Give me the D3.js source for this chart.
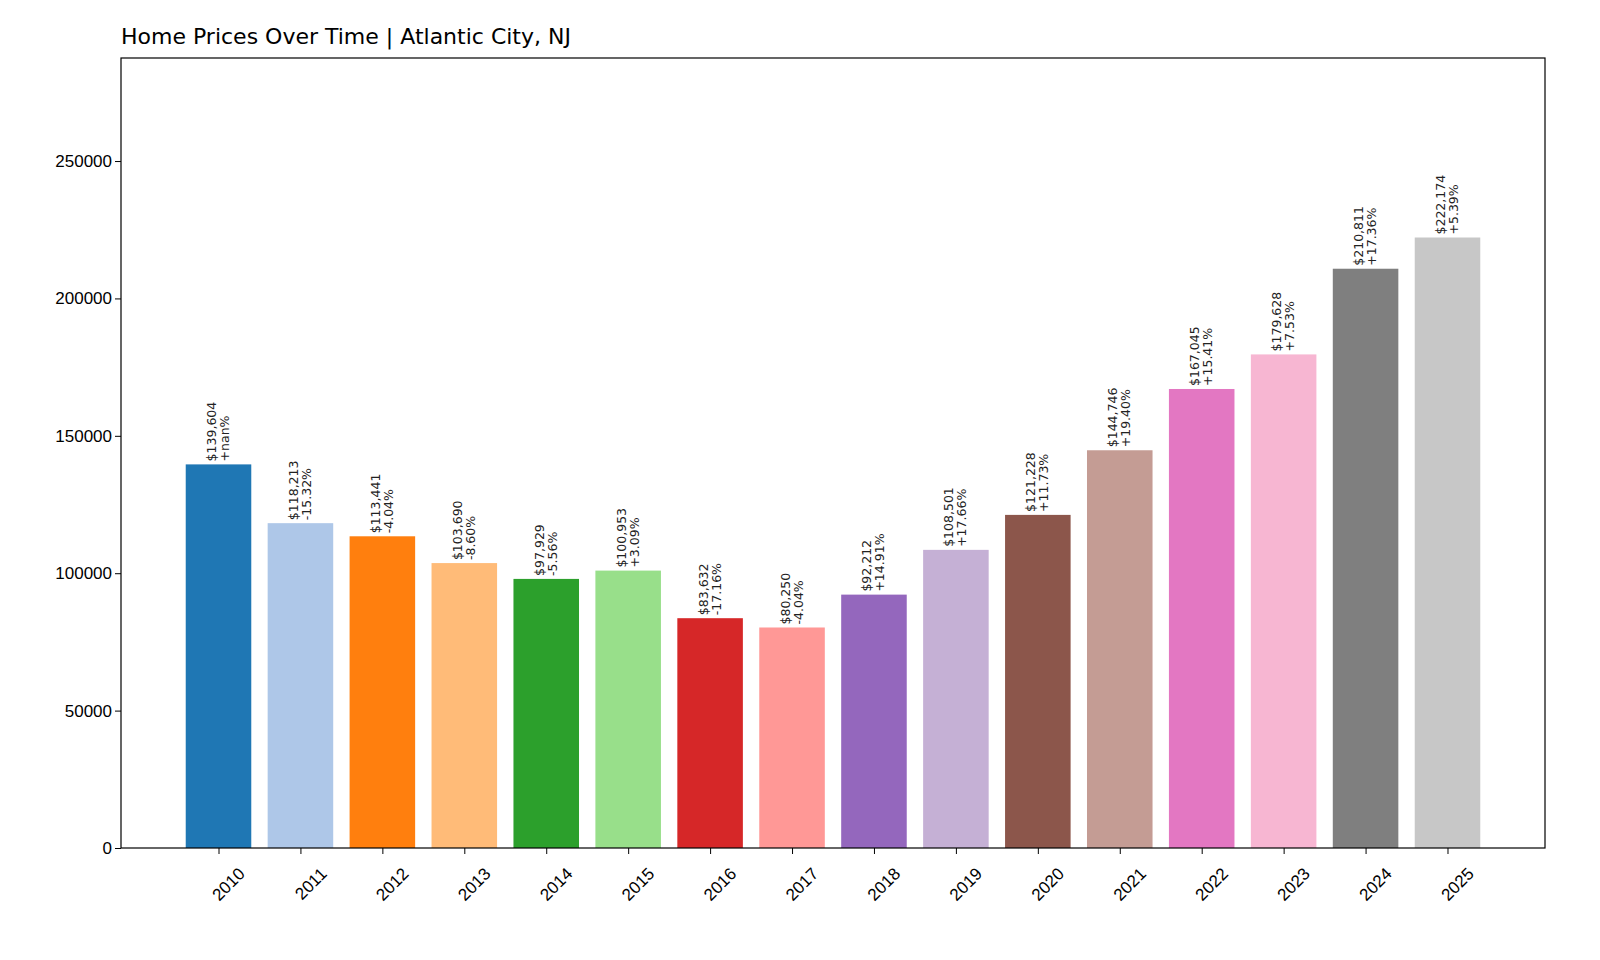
<!doctype html>
<html>
<head>
<meta charset="utf-8">
<script src="https://d3js.org/d3.v7.min.js"></script>
<style>
  body { margin: 0; background: white; font-family: "DejaVu Sans", sans-serif; }
</style>
</head>
<body>
<svg></svg>
<script>
var years = [2010,2011,2012,2013,2014,2015,2016,2017,2018,2019,2020,2021,2022,2023,2024,2025];
var prices = [139604,118213,113441,103690,97929,100953,83632,80250,92212,108501,121228,144746,167045,179628,210811,222174];
var changes = ["+nan%","-15.32%","-4.04%","-8.60%","-5.56%","+3.09%","-17.16%","-4.04%","+14.91%","+17.66%","+11.73%","+19.40%","+15.41%","+7.53%","+17.36%","+5.39%"];
var yTicks = [0,50000,100000,150000,200000,250000];
var colors = ["#1f77b4","#aec7e8","#ff7f0e","#ffbb78","#2ca02c","#98df8a","#d62728","#ff9896",
              "#9467bd","#c5b0d5","#8c564b","#c49c94","#e377c2","#f7b6d2","#7f7f7f","#c7c7c7"];

var svg = d3.select("svg").attr("width", 1600).attr("height", 960);
var mLeft = 121, mRight = 1545, mTop = 58, mBottom = 848;

var x = d3.scaleLinear().domain([-1.19, 16.19]).range([mLeft, mRight]);
var y = d3.scaleLinear().domain([0, 287500]).range([mBottom, mTop]);
var bw = x(0.8) - x(0);

svg.selectAll(".bar").data(prices).enter()
  .append("rect")
  .attr("x", function(d,i){ return x(i - 0.4) })
  .attr("y", function(d){ return y(d) })
  .attr("width", bw)
  .attr("height", function(d){ return mBottom - y(d) })
  .attr("fill", function(d,i){ return colors[i] });

// value labels
prices.forEach(function(d,i){
  var cx = x(i), ty = y(d) - 3;
  [["$" + d3.format(",")(d), -6], [changes[i], 7]].forEach(function(p){
    svg.append("text")
      .attr("transform", "translate(" + (cx + p[1]) + "," + ty + ") rotate(-90)")
      .attr("dominant-baseline", "middle")
      .attr("font-size", 12.5)
      .attr("fill", "#222")
      .text(p[0]);
  });
});

// axes
var xAxis = svg.append("g").attr("transform", "translate(0," + mBottom + ")")
  .call(d3.axisBottom(x).tickValues(d3.range(16)).tickFormat(function(i){ return years[i] }).tickSizeOuter(0));
xAxis.selectAll("text")
  .attr("font-size", 17).attr("fill", "#000")
  .attr("text-anchor", "end")
  .attr("transform", "translate(12,12) rotate(-45)");

var yAxis = svg.append("g").attr("transform", "translate(" + mLeft + ",0)")
  .call(d3.axisLeft(y).tickValues(yTicks).tickFormat(d3.format("d")).tickSizeOuter(0));
yAxis.selectAll("text").attr("font-size", 17).attr("fill", "#000");
svg.selectAll(".domain").remove();

svg.append("rect").attr("x", mLeft).attr("y", mTop)
  .attr("width", mRight - mLeft).attr("height", mBottom - mTop)
  .attr("fill", "none").attr("stroke", "#000").attr("stroke-width", 1.2);

svg.append("text").attr("x", mLeft).attr("y", 44)
  .attr("font-size", 22).attr("fill", "#000")
  .text("Home Prices Over Time | Atlantic City, NJ");
</script>
</body>
</html>
